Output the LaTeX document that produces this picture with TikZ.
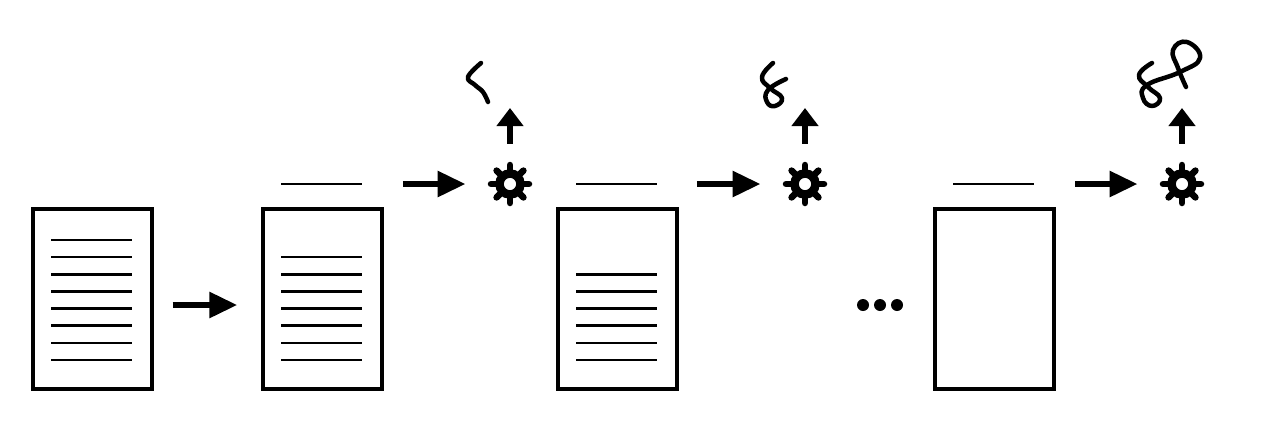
\documentclass[tikz,border=0pt]{standalone}
\usepackage{amsmath}
\usetikzlibrary{arrows.meta}

% one cog wheel: #1 name, #2 centre
\newcommand{\cogwheel}[2]{
\node[cog] (#1) at (#2) {};
\foreach \a in {0,45,...,315}
\draw[tooth] (#1.center) ++(\a:0.2cm) -- ++(\a:0.18cm);
}

\begin{document}
\begin{tikzpicture}[x=0.02cm,y=-0.02cm,
                    page/.style={rectangle,draw,line width=0.075cm,minimum width=2.37cm,minimum height=3.6cm,inner sep=0pt,outer sep=0pt},
                    textline/.style={line width=0.05cm},
                    headline/.style={rectangle,fill,minimum width=1.62cm,minimum height=0.05cm,inner sep=0pt,outer sep=0pt},
                    cog/.style={circle,draw,line width=0.17cm,minimum size=0.42cm,inner sep=0pt,outer sep=0pt},
                    tooth/.style={line width=0.13cm,line cap=round},
                    bigarrow/.style={-{Triangle[length=0.56cm,width=0.5cm]},line width=0.12cm},
                    uparrow/.style={-{Triangle[length=0.36cm,width=0.52cm]},line width=0.11cm},
                    scribble/.style={line width=0.09cm,line cap=round,line join=round},
                    dot/.style={circle,fill,minimum size=0.24cm,inner sep=0pt}]
\useasboundingbox (0,0) rectangle (1280,424);

\node[page] (p1) at (92.5,299) {};
\node[page] (p2) at (322.5,299) {};
\node[page] (p3) at (617.5,299) {};
\node[page] (p4) at (994.5,299) {};

% lines left on each page
\foreach \n in {0,...,7}
\draw[textline] (51,240+17.14*\n) -- (132,240+17.14*\n);
\foreach \n in {1,...,7}
\draw[textline] (281,240+17.14*\n) -- (362,240+17.14*\n);
\foreach \n in {2,...,7}
\draw[textline] (576,240+17.14*\n) -- (657,240+17.14*\n);

\node[headline] (h2) at (321.5,184) {};
\node[headline] (h3) at (616.5,184) {};
\node[headline] (h4) at (993.5,184) {};

\cogwheel{g1}{510,184}
\cogwheel{g2}{805,184}
\cogwheel{g3}{1182,184}

\coordinate (s1) at (510,108);
\coordinate (s2) at (805,108);
\coordinate (s3) at (1182,108);

\draw[bigarrow,shorten <=0.42cm,shorten >=0.52cm] ([yshift=-0.12cm]p1.east) -- ([yshift=-0.12cm]p2.west);
\draw[bigarrow,shorten <=0.82cm,shorten >=0.68cm] (h2.east) -- (g1.west);
\draw[bigarrow,shorten <=0.8cm,shorten >=0.68cm] (h3.east) -- (g2.west);
\draw[bigarrow,shorten <=0.82cm,shorten >=0.68cm] (h4.east) -- (g3.west);

\draw[uparrow,shorten <=0.6cm] (g1.north) -- (s1);
\draw[uparrow,shorten <=0.6cm] (g2.north) -- (s2);
\draw[uparrow,shorten <=0.6cm] (g3.north) -- (s3);

\draw[scribble] plot[smooth,tension=0.7] coordinates {(481,63) (468,77) (475,85) (483,92) (488,102)};
\draw[scribble] plot[smooth,tension=0.8] coordinates {(773,63) (762,77) (770,88) (782,98) (775,106) (767,102) (768,90) (786,79)};
\draw[scribble] plot[smooth,tension=0.8] coordinates {(1152,63) (1139,75) (1148,87) (1160,98) (1152,106) (1143,98) (1147,85) (1180,72) (1200,58) (1187,42) (1173,50) (1178,68) (1186,87)};

\node[dot] (d1) at (863,305) {};
\node[dot] (d2) at (880,305) {};
\node[dot] (d3) at (897,305) {};

\end{tikzpicture}
\end{document}
